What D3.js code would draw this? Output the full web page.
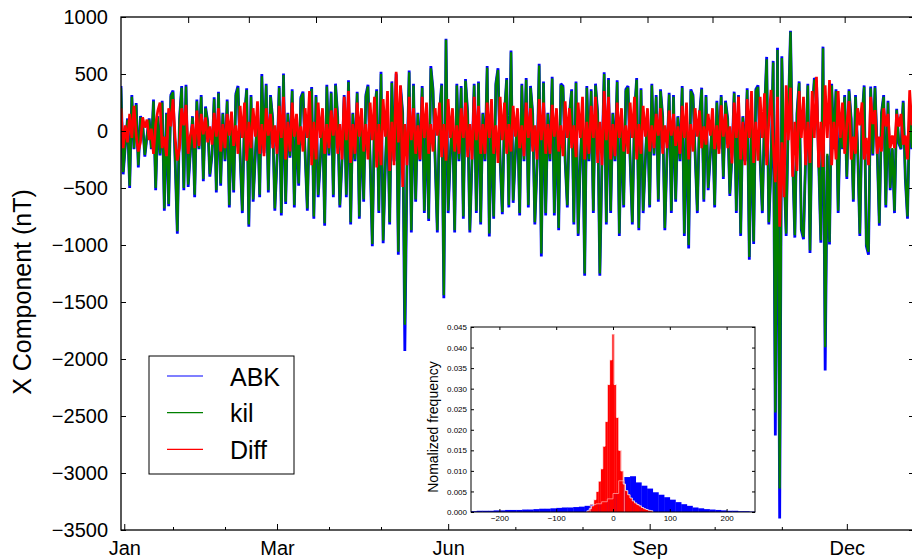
<!DOCTYPE html>
<html>
<head>
<meta charset="utf-8">
<script src="https://cdn.jsdelivr.net/npm/d3@7"></script>
<style>
body{margin:0;background:#fff}
svg{display:block;font-family:"Liberation Sans",Arial,sans-serif}
</style>
</head>
<body>
<script>
// daily values (nT), day 0 = 1 Jan
const kil = [380,-360,-120, 100,-480,300, -150,230,-300, 120,60,-210, -40,100,-150, 260,-500,120, -200,250,-680, 150,-640,300, 340,-250,-880, 100,380,-500,
  390,-470,-180, 120,-560,260, -150,300,-420, 200,80,-380, -200,280,-520, 330,-460,150, -250,260,-650, 100,-520,310, 380,-220,-700, 120,360,-820,
  300,-600,-200, 150,-560,480, -180,400,-520, 300,100,-680, -250,380,-720, 490,-620,150, -220,350,-650, 100,-460,280, 330,-200,-680, 120,370,-750,
  300,-560,-250, 150,-810,390, -200,330,-560, 400,120,-650, -250,300,-560, 430,-800,150, -250,330,-750, 120,-600,300, 390,-250,-990, 150,350,-700,
  500,-960,-300, 180,-800,420, -250,490,-1060, 380,150,-1700, -300,516,-870, 400,-600,150, -250,380,-700, 150,-770,550, 350,-250,-870, 150,400,-1440,
  800,-700,-200, 150,-870,400, -250,380,-750, 440,150,-870, -250,400,-700, 420,-800,150, -250,555,-900, 150,-750,400, 535,-250,-710, 150,450,-650,
  690,-610,-200, 150,-720,400, -250,450,-650, 380,150,-800, -300,575,-1075, 420,-720,150, -250,460,-720, 150,-850,400, 380,-250,-650, 150,350,-800,
  420,-900,-250, 150,-1250,380, -250,350,-700, 400,150,-1250, -250,500,-800, 450,-700,150, -250,430,-900, 150,-650,350, 380,-250,-800, 150,450,-850,
  360,-700,-250, 150,-650,400, -200,300,-600, 350,120,-850, -200,320,-700, 300,-600,120, -250,380,-900, 150,-1000,350, 300,-200,-700, 120,365,-600,
  300,-500,-200, 100,-650,250, -150,300,-400, 250,100,-550, -200,330,-700, 300,-900,120, -250,360,-1105, 150,-970,350, 385,-250,-700, 150,630,-800,
  -300,600,-2470, 710,-3135,640, -300,-900,150, 870,-250,-915, 150,420,-850, -930,-200,400, -1047,150,450, 420,-250,-958, 725,-1896,-200, -974,400,-150,
  350,-700,150, -150,300,-400, 350,100,-600, 300,-150,-900, 100,385,-987, -1060,375,-200, 380,-150,-810, 150,300,-650, 250,-500,-150, -700,185,-100,
  -150,250,-400, -750,200,-150];
const abk = [395,-380,-130, 110,-500,315, -160,245,-320, 130,65,-225, -45,110,-160, 275,-520,130, -215,265,-700, 160,-660,315, 355,-265,-900, 110,395,-520,
  405,-490,-195, 130,-580,275, -160,315,-440, 215,85,-400, -215,295,-540, 345,-480,160, -265,275,-670, 110,-540,325, 395,-235,-720, 130,375,-840,
  315,-620,-215, 160,-580,500, -195,415,-540, 315,110,-700, -265,395,-740, 505,-640,160, -235,365,-670, 110,-480,295, 345,-215,-700, 130,385,-770,
  315,-580,-265, 160,-830,405, -215,345,-580, 415,130,-670, -265,315,-580, 445,-820,160, -265,345,-770, 130,-620,315, 405,-265,-1010, 160,365,-720,
  520,-985,-315, 190,-820,435, -265,505,-1085, 395,160,-1930, -315,530,-890, 415,-620,160, -265,395,-720, 160,-790,570, 365,-265,-890, 160,415,-1468,
  810,-720,-215, 160,-890,415, -265,395,-770, 455,160,-890, -265,415,-720, 435,-820,160, -265,570,-925, 160,-770,415, 550,-265,-730, 160,465,-670,
  705,-630,-215, 160,-740,415, -265,465,-670, 395,160,-820, -315,590,-1100, 435,-740,160, -265,475,-740, 160,-870,415, 395,-265,-670, 160,365,-820,
  435,-920,-265, 160,-1270,395, -265,365,-720, 415,160,-1270, -265,515,-820, 465,-720,160, -265,445,-920, 160,-670,365, 395,-265,-820, 160,465,-870,
  375,-720,-265, 160,-670,415, -215,315,-620, 365,130,-870, -215,335,-720, 315,-620,130, -265,395,-920, 160,-1030,365, 315,-215,-720, 130,380,-620,
  315,-520,-215, 110,-670,265, -160,315,-420, 265,110,-570, -215,345,-720, 315,-920,130, -265,375,-1130, 160,-990,365, 400,-265,-720, 160,650,-820,
  -315,615,-2670, 730,-3400,655, -315,-920,160, 880,-265,-935, 160,435,-870, -950,-215,415, -1070,160,465, 435,-265,-980, 740,-2100,-215, -995,415,-160,
  365,-720,160, -160,315,-420, 365,110,-620, 315,-160,-920, 110,400,-1010, -1085,390,-215, 395,-160,-830, 160,315,-670, 265,-520,-160, -720,195,-110,
  -160,265,-420, -770,210,-160];
const diff = [200,-150,50, -100,150,-60, 220,-40,-180, -100,120,30, 100,-80,20, -200,60,180, 250,-150,-50, -220,200,40, 280,-60,-260, -150,200,50,
  230,-200,-40, 60,-150,180, -130,150,-30, 120,-100,40, -120,160,-50, 200,-180,60, -150,150,-40, 170,-130,50, -200,220,-60, 250,-260,80,
  -150,200,-50, 260,-200,60, -220,200,-40, 150,-150,50, -200,220,-60, 300,-250,80, -180,250,-50, 150,-120,40, -180,200,-60, 350,-300,80,
  -250,250,-60, 200,-200,60, -150,180,-40, 200,-200,60, -250,300,-80, 350,-280,60, -200,250,-50, 200,-180,60, -250,250,-80, 300,-320,60,
  -300,280,-50, 350,-350,80, -300,520,-100, 400,-490,60, -300,300,-80, 200,-200,50, -250,300,-60, 250,-200,60, -180,200,-40, 250,-230,60,
  -260,280,-60, 200,-180,50, -200,200,-60, 250,-230,60, -250,300,-80, 220,-200,60, -200,250,-60, 280,-200,50, -280,300,-80, 250,-200,60,
  -180,220,-50, 200,-150,50, -220,250,-60, 200,-180,50, -250,280,-80, 250,-200,60, -200,230,-50, 200,-180,50, -220,260,-60, 200,-150,50,
  -230,250,-60, 300,-250,80, -200,220,-60, 300,-280,80, -300,350,-80, 300,-250,60, -220,250,-60, 200,-180,50, -200,250,-60, 300,-250,60,
  -200,220,-50, 200,-180,50, -150,150,-40, 200,-200,50, -150,180,-40, 150,-130,40, -200,220,-60, 250,-250,60, -180,200,-50, 180,-150,40,
  -120,150,-40, 200,-160,50, -200,225,-50, 150,-150,40, -285,250,-60, 300,-250,80, -300,280,-60, 350,-280,80, -260,300,-60, 330,-300,80,
  360,-100,-450, 300,-840,-100, -580,400,-80, 380,-400,80, -350,350,-60, 300,-300,80, -280,350,-60, 475,-320,80, -315,400,-60, 446,-300,80,
  -250,350,-60, 250,-200,60, 263,-250,-50, -200,200,50, 250,-250,-60, -300,300,60, 183,-200,-50, -180,200,40, 150,-150,-40, -150,150,40,
  150,-120,-40, -250,358,50];

const yTicks = [1000,500,0,-500,-1000,-1500,-2000,-2500,-3000,-3500];
const topTicks = [31,59,90,120,151,181,212,243,273,304,334];
const bottomTicks = [24,48,96,120,182,213,274,305];
const monthDays = [1.5,72,151,244,335];
const monthLabels = ["Jan","Mar","Jun","Sep","Dec"];

// inset histograms
const blueEdges = d3.range(-250,250,10);
const blueFreq = [0.0002,0.0003,0.0003,0.0003,0.0004,0.0004,0.0005,0.0005,0.0005,0.0006,0.0006,0.0007,0.0008,0.0008,0.0009,0.0010,0.0011,0.0011,0.0012,0.0013,0.0015,0.0018,0.0020,0.0025,0.0032,0.0045,0.0076,0.0085,0.0087,0.0072,0.0064,0.0057,0.0048,0.0042,0.0036,0.0030,0.0024,0.0019,0.0015,0.0011,0.0009,0.0007,0.0006,0.0005,0.0004,0.0003,0.0003,0.0002,0.0002,0.0001];
const redEdges = d3.range(-46,70,4);
const redFreq = [0.0003,0.0008,0.0015,0.0030,0.0050,0.0075,0.0105,0.0160,0.0220,0.0310,0.0370,0.0433,0.0310,0.0230,0.0150,0.0100,0.0068,0.0052,0.0042,0.0034,0.0027,0.0022,0.0018,0.0015,0.0011,0.0008,0.0006,0.0004,0.0003];
const inXTicks = [-200,-100,0,100,200];
const inYTicks = d3.range(0,0.0451,0.005);

const fmt = v => String(v).replace("-","\u2212");

var svg = d3.select("body").append("svg")
  .attr("width",912)
  .attr("height",560);

var x = d3.scaleLinear().domain([0,366]).range([121,914]);
var y = d3.scaleLinear().domain([-3500,1000]).range([530,17]);

svg.append("clipPath").attr("id","plot")
  .append("rect").attr("x",121).attr("y",17).attr("width",793).attr("height",513);

var line = d3.line().x((d,i) => x(i)).y(d => y(d));

var series = [
  {name:"ABK",values:abk,color:"#0000ff",width:2.8},
  {name:"kil",values:kil,color:"#008000",width:2.3},
  {name:"Diff",values:diff,color:"#ff0000",width:2.7}
];

var plot = svg.append("g").attr("clip-path","url(#plot)");
series.forEach(function(s){
  plot.append("path")
    .attr("d",line(s.values))
    .attr("fill","none")
    .attr("stroke",s.color)
    .attr("stroke-width",s.width)
    .attr("stroke-linejoin","miter")
    .attr("stroke-miterlimit",2);
});

// frame + ticks
svg.append("rect")
  .attr("x",121).attr("y",17).attr("width",793).attr("height",513)
  .attr("fill","none").attr("stroke","#000").attr("stroke-width",1.3);

var leftAxis = svg.append("g").attr("transform","translate(121,0)")
  .call(d3.axisLeft(y).tickValues(yTicks).tickSize(-5).tickSizeOuter(0).tickPadding(13).tickFormat(fmt));
leftAxis.select(".domain").remove();
leftAxis.selectAll("text").attr("font-size",20).attr("fill","#000").attr("font-family","Liberation Sans, Arial, sans-serif");

var rightAxis = svg.append("g").attr("transform","translate(914,0)")
  .call(d3.axisRight(y).tickValues(yTicks).tickSize(-5).tickSizeOuter(0).tickFormat(""));
rightAxis.select(".domain").remove();

var topAxis = svg.append("g").attr("transform","translate(0,17)")
  .call(d3.axisTop(x).tickValues(topTicks).tickSize(-6).tickSizeOuter(0).tickFormat(""));
topAxis.select(".domain").remove();

var bottomAxis = svg.append("g").attr("transform","translate(0,530)")
  .call(d3.axisBottom(x).tickValues(monthDays).tickSize(-6).tickSizeOuter(0).tickPadding(11).tickFormat((d,i) => monthLabels[i]));
bottomAxis.select(".domain").remove();
bottomAxis.selectAll("text").attr("font-size",20).attr("fill","#000").attr("font-family","Liberation Sans, Arial, sans-serif");
var bottomMinor = svg.append("g").attr("transform","translate(0,530)")
  .call(d3.axisBottom(x).tickValues(bottomTicks).tickSize(-3).tickSizeOuter(0).tickFormat(""));
bottomMinor.select(".domain").remove();

svg.append("text")
  .attr("transform","translate(31,292) rotate(-90)")
  .attr("text-anchor","middle")
  .attr("font-size",25)
  .text("X Component (nT)");

// legend
var legend = svg.append("g");
legend.append("rect")
  .attr("x",149).attr("y",356).attr("width",145).attr("height",118)
  .attr("fill","#fff").attr("stroke","#000").attr("stroke-width",1);
series.forEach(function(s,i){
  var ly = 376 + i*36.7;
  legend.append("line")
    .attr("x1",167).attr("x2",203).attr("y1",ly).attr("y2",ly)
    .attr("stroke",s.color).attr("stroke-width",1.2);
  legend.append("text")
    .attr("x",230).attr("y",ly+9.5)
    .attr("font-size",25)
    .text(s.name);
});

// inset histogram
var ix = d3.scaleLinear().domain([-250,250]).range([471,755]);
var iy = d3.scaleLinear().domain([0,0.045]).range([512,327]);
var inset = svg.append("g");
inset.append("rect")
  .attr("x",471).attr("y",327).attr("width",284).attr("height",185)
  .attr("fill","#fff");

inset.selectAll(".bb").data(blueFreq).join("rect")
  .attr("x",(d,i) => ix(blueEdges[i]))
  .attr("width",(d,i) => ix(blueEdges[i]+10)-ix(blueEdges[i])+0.3)
  .attr("y",d => iy(d))
  .attr("height",d => iy(0)-iy(d))
  .attr("fill","#0000ff");

inset.selectAll(".rb").data(redFreq).join("rect")
  .attr("x",(d,i) => ix(redEdges[i]))
  .attr("width",(d,i) => ix(redEdges[i]+4)-ix(redEdges[i])+0.3)
  .attr("y",d => iy(d))
  .attr("height",d => iy(0)-iy(d))
  .attr("fill","#ff0000");

function stepPath(edges,freq,w){
  var p = d3.path();
  freq.forEach(function(f,i){
    if(i==0) p.moveTo(ix(edges[i]),iy(0));
    p.lineTo(ix(edges[i]),iy(f));
    p.lineTo(ix(edges[i]+w),iy(f));
  });
  p.lineTo(ix(edges[freq.length-1]+w),iy(0));
  return p.toString();
}
// outline of blue histogram seen through the red one
var bi0 = blueEdges.indexOf(-40), bi1 = blueEdges.indexOf(10);
inset.append("path")
  .attr("d",stepPath(blueEdges.slice(bi0,bi1+1),blueFreq.slice(bi0,bi1+1),10))
  .attr("fill","none").attr("stroke","#ff9a9a").attr("stroke-width",0.8);
inset.append("path")
  .attr("d",stepPath(redEdges,redFreq,4))
  .attr("fill","none").attr("stroke","#fff").attr("stroke-width",0.8);

inset.append("rect")
  .attr("x",471).attr("y",327).attr("width",284).attr("height",185)
  .attr("fill","none").attr("stroke","#000").attr("stroke-width",1);

var ib = inset.append("g").attr("transform","translate(0,512)")
  .call(d3.axisBottom(ix).tickValues(inXTicks).tickSize(-3).tickSizeOuter(0).tickPadding(3).tickFormat(fmt));
var it = inset.append("g").attr("transform","translate(0,327)")
  .call(d3.axisTop(ix).tickValues(inXTicks).tickSize(-3).tickSizeOuter(0).tickFormat(""));
var il = inset.append("g").attr("transform","translate(471,0)")
  .call(d3.axisLeft(iy).tickValues(inYTicks).tickSize(-3).tickSizeOuter(0).tickPadding(4).tickFormat(d3.format(".3f")));
var ir = inset.append("g").attr("transform","translate(755,0)")
  .call(d3.axisRight(iy).tickValues(inYTicks).tickSize(-3).tickSizeOuter(0).tickFormat(""));
[ib,it,il,ir].forEach(g => g.select(".domain").remove());
inset.selectAll(".tick text").attr("font-size",8).attr("fill","#000").attr("font-family","Liberation Sans, Arial, sans-serif");

inset.append("text")
  .attr("transform","translate(438,427) rotate(-90)")
  .attr("text-anchor","middle")
  .attr("font-size",14)
  .text("Nomalized frequency");
</script>
</body>
</html>
